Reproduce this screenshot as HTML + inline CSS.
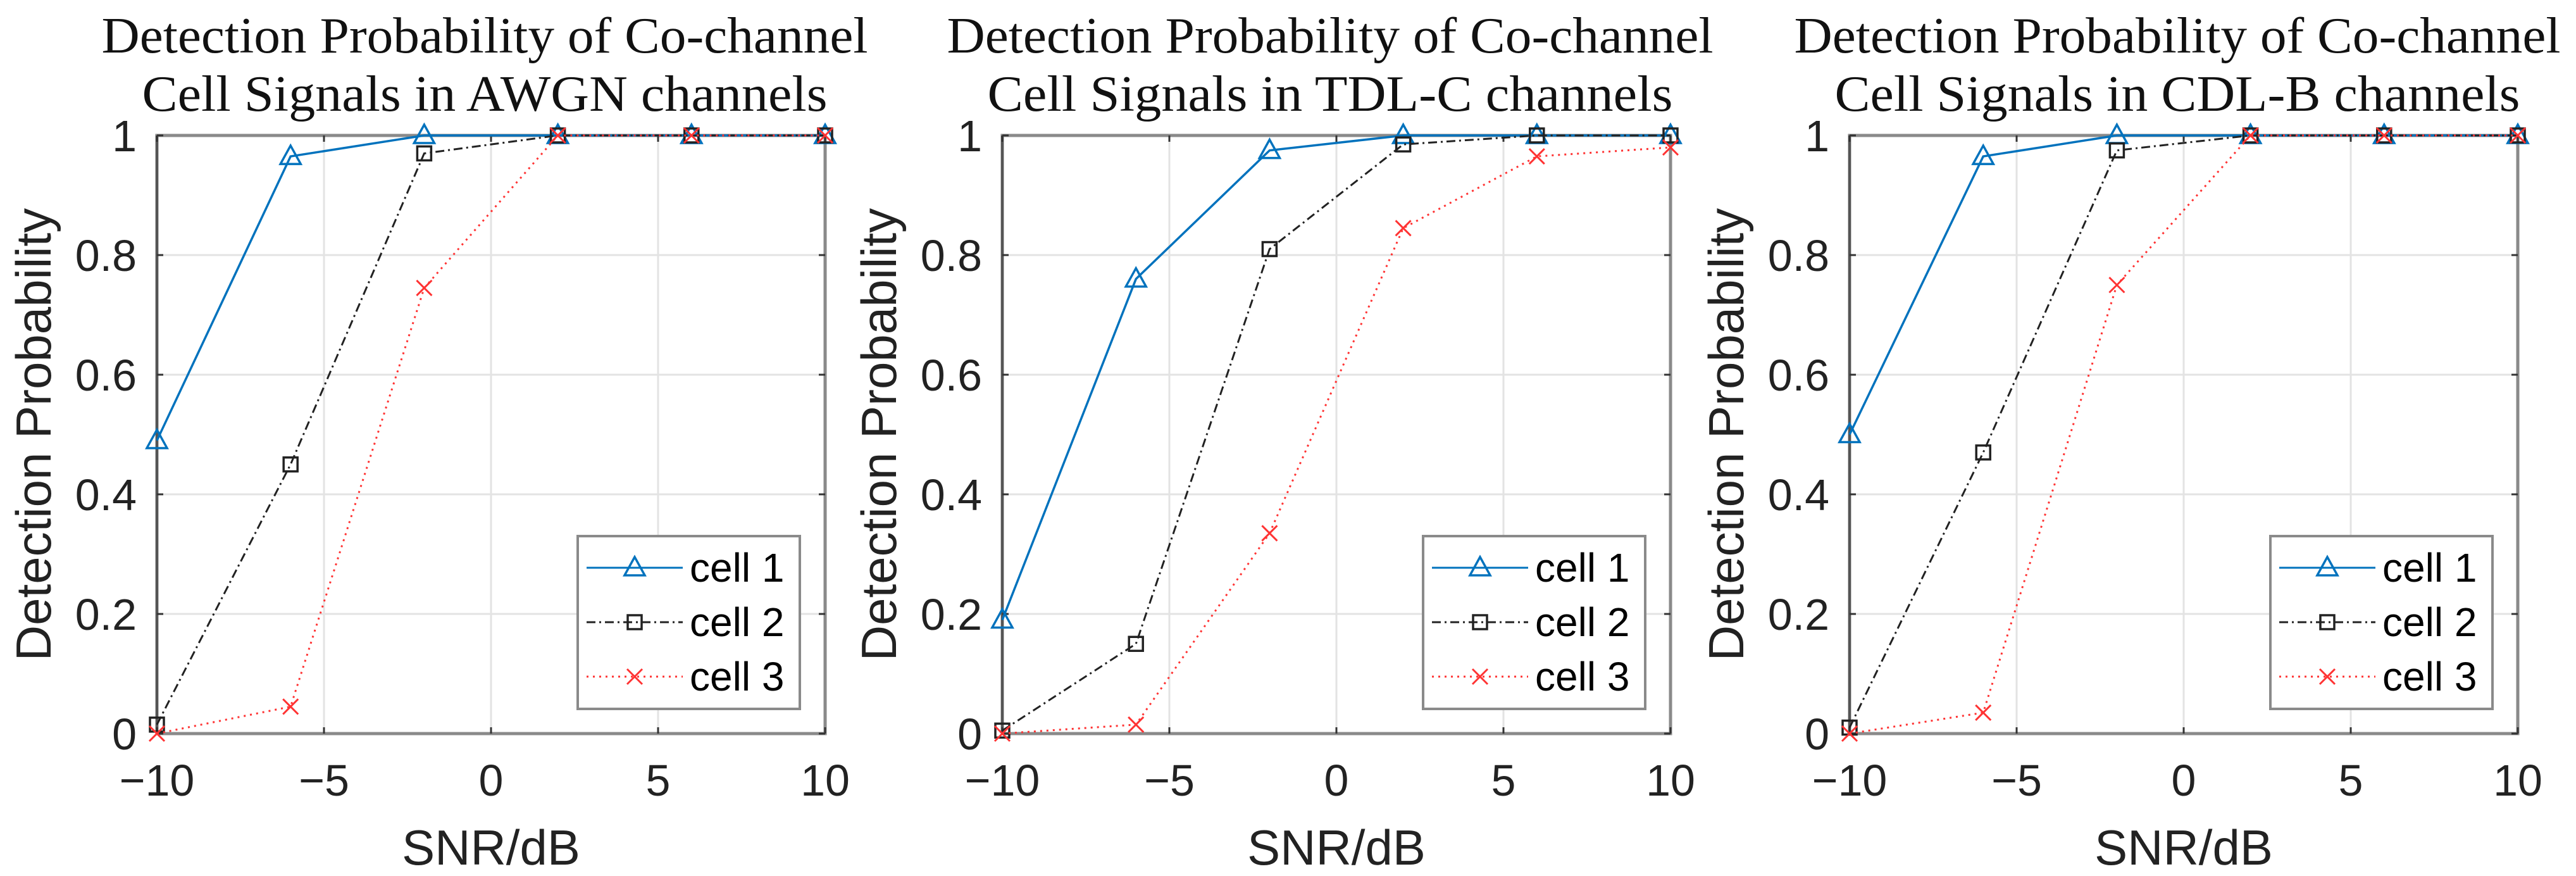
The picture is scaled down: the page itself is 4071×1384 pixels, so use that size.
<!DOCTYPE html>
<html><head><meta charset="utf-8"><style>
html,body{margin:0;padding:0;background:#fff;}
svg{display:block;}
</style></head><body>
<svg id="fig" width="4071" height="1384" viewBox="0 0 4071 1384" xmlns="http://www.w3.org/2000/svg"></svg>
<script>
const snr = [-10, -6, -2, 2, 6, 10];
const xTicks = [-10, -5, 0, 5, 10];
const yTicks = [0, 0.2, 0.4, 0.6, 0.8, 1];
const yTickLabels = ["0", "0.2", "0.4", "0.6", "0.8", "1"];
const seriesNames = ["cell 1", "cell 2", "cell 3"];
const awgnCell1 = [0.49, 0.965, 1, 1, 1, 1];
const awgnCell2 = [0.015, 0.45, 0.97, 1, 1, 1];
const awgnCell3 = [0.0, 0.045, 0.745, 1, 1, 1];
const tdlCell1 = [0.19, 0.76, 0.975, 1, 1, 1];
const tdlCell2 = [0.005, 0.15, 0.81, 0.985, 1, 1];
const tdlCell3 = [0.0, 0.015, 0.335, 0.845, 0.965, 0.98];
const cdlCell1 = [0.5, 0.965, 1, 1, 1, 1];
const cdlCell2 = [0.01, 0.47, 0.975, 1, 1, 1];
const cdlCell3 = [0.0, 0.035, 0.75, 1, 1, 1];
const titlesLine1 = ["Detection Probability of Co-channel","Detection Probability of Co-channel","Detection Probability of Co-channel"];
const titlesLine2 = ["Cell Signals in AWGN channels","Cell Signals in TDL-C channels","Cell Signals in CDL-B channels"];

const NS = "http://www.w3.org/2000/svg";
const svg = document.getElementById('fig');
function mk(tag, attrs, parent){const e=document.createElementNS(NS,tag);for(const k in attrs)e.setAttribute(k,attrs[k]);(parent||svg).appendChild(e);return e;}

const panels = [
  {left:248, data:[awgnCell1,awgnCell2,awgnCell3], key:'awgn'},
  {left:1584, data:[tdlCell1,tdlCell2,tdlCell3], key:'tdlc'},
  {left:2923, data:[cdlCell1,cdlCell2,cdlCell3], key:'cdlb'}
];
const W=1056, TOP=214, H=945;
const styles=[
  {color:'#0072BD', dash:'', marker:'tri'},
  {color:'#222222', dash:'14 6 3 6', marker:'sq'},
  {color:'#ff3333', dash:'3 7', marker:'x'}
];
function drawMarker(g,type,cx,cy,color){
  let m;
  if(type==='tri'){m=mk('polygon',{points:`${cx},${cy-17} ${cx-16},${cy+12} ${cx+16},${cy+12}`,fill:'none',stroke:color,'stroke-width':3.5},g);}
  else if(type==='sq'){m=mk('rect',{x:cx-11,y:cy-11,width:22,height:22,fill:'none',stroke:color,'stroke-width':3.5},g);}
  else {m=mk('path',{d:`M${cx-12},${cy-12}L${cx+12},${cy+12}M${cx-12},${cy+12}L${cx+12},${cy-12}`,stroke:color,'stroke-width':3},g);}
  return m;
}
panels.forEach((p,pi)=>{
  const L=p.left;
  const xs=v=>L+(v+10)/20*W;
  const ys=v=>TOP+H-v*H;
  const g=mk('g',{});
  
  
  mk('rect',{x:L,y:TOP,width:W,height:H,fill:'#fff'},g);
  xTicks.forEach(t=>{const l=mk('line',{x1:xs(t),x2:xs(t),y1:TOP,y2:TOP+H,stroke:'#e3e3e3','stroke-width':3},g);
    });
  yTicks.forEach(t=>{const l=mk('line',{x1:L,x2:L+W,y1:ys(t),y2:ys(t),stroke:'#e3e3e3','stroke-width':3},g);
    });
  const box=mk('rect',{x:L,y:TOP,width:W,height:H,fill:'none',stroke:'#8a8a8a','stroke-width':5},g);
  
  mk('line',{x1:L,x2:L,y1:TOP,y2:TOP+H,stroke:'#555','stroke-width':4},g);
  xTicks.forEach(t=>{mk('line',{x1:xs(t),x2:xs(t),y1:TOP+H,y2:TOP+H-10,stroke:'#333','stroke-width':3},g);mk('line',{x1:xs(t),x2:xs(t),y1:TOP,y2:TOP+10,stroke:'#333','stroke-width':3},g);
    const tx=mk('text',{x:xs(t),y:1257,'font-family':'Liberation Sans, sans-serif','font-size':70,'text-anchor':'middle',fill:'#222'},g);
    tx.textContent=(t<0?'\u2212'+Math.abs(t):String(t));
    });
  yTicks.forEach((t,i)=>{mk('line',{x1:L,x2:L+10,y1:ys(t),y2:ys(t),stroke:'#333','stroke-width':3},g);mk('line',{x1:L+W,x2:L+W-10,y1:ys(t),y2:ys(t),stroke:'#333','stroke-width':3},g);
    const tx=mk('text',{x:L-32,y:ys(t)+25,'font-family':'Liberation Sans, sans-serif','font-size':70,'text-anchor':'end',fill:'#222'},g);
    tx.textContent=yTickLabels[i];
    });
  p.data.forEach((vals,si)=>{
    const s=styles[si];
    const sg=mk('g',{},g);
    
    const pts=snr.map((x,i)=>xs(x)+','+ys(vals[i])).join(' ');
    const attrs={points:pts,fill:'none',stroke:s.color,'stroke-width':si===0?3.5:3};
    if(s.dash)attrs['stroke-dasharray']=s.dash;
    mk('polyline',attrs,sg);
    snr.forEach((x,i)=>{const m=drawMarker(sg,s.marker,xs(x),ys(vals[i]),s.color);
      });
  });
  const t1=mk('text',{x:L+W/2-10,y:83,'font-family':'Liberation Serif, serif','font-size':80,'text-anchor':'middle',fill:'#111',textLength:1211,lengthAdjust:'spacingAndGlyphs'},g);
  t1.textContent=titlesLine1[pi];
  const t2=mk('text',{x:L+W/2-10,y:175,'font-family':'Liberation Serif, serif','font-size':80,'text-anchor':'middle',fill:'#111',textLength:1083,lengthAdjust:'spacingAndGlyphs'},g);
  t2.textContent=titlesLine2[pi];
  const xl=mk('text',{x:L+W/2,y:1366,'font-family':'Liberation Sans, sans-serif','font-size':78,'text-anchor':'middle',fill:'#222'},g);
  xl.textContent='SNR/dB';
  const yl=mk('text',{x:0,y:0,'font-family':'Liberation Sans, sans-serif','font-size':78,'text-anchor':'middle',fill:'#222',transform:`translate(${L-168},${TOP+H/2}) rotate(-90)`},g);
  yl.textContent='Detection Probability';
  const lg=mk('g',{},g);
  
  mk('rect',{x:L+665,y:847,width:351,height:273,fill:'#fff',stroke:'#8a8a8a','stroke-width':4},lg);
  seriesNames.forEach((n,si)=>{
    const s=styles[si];const cy=897+si*86;
    const eg=mk('g',{},lg);
    
    const la={x1:L+679,x2:L+831,y1:cy,y2:cy,stroke:s.color,'stroke-width':3};
    if(s.dash)la['stroke-dasharray']=s.dash;
    mk('line',la,eg);
    drawMarker(eg,s.marker,L+755,cy,s.color);
    const tx=mk('text',{x:L+842,y:cy+22,'font-family':'Liberation Sans, sans-serif','font-size':64,fill:'#000'},eg);
    tx.textContent=n;
  });
});
</script>
</body></html>
